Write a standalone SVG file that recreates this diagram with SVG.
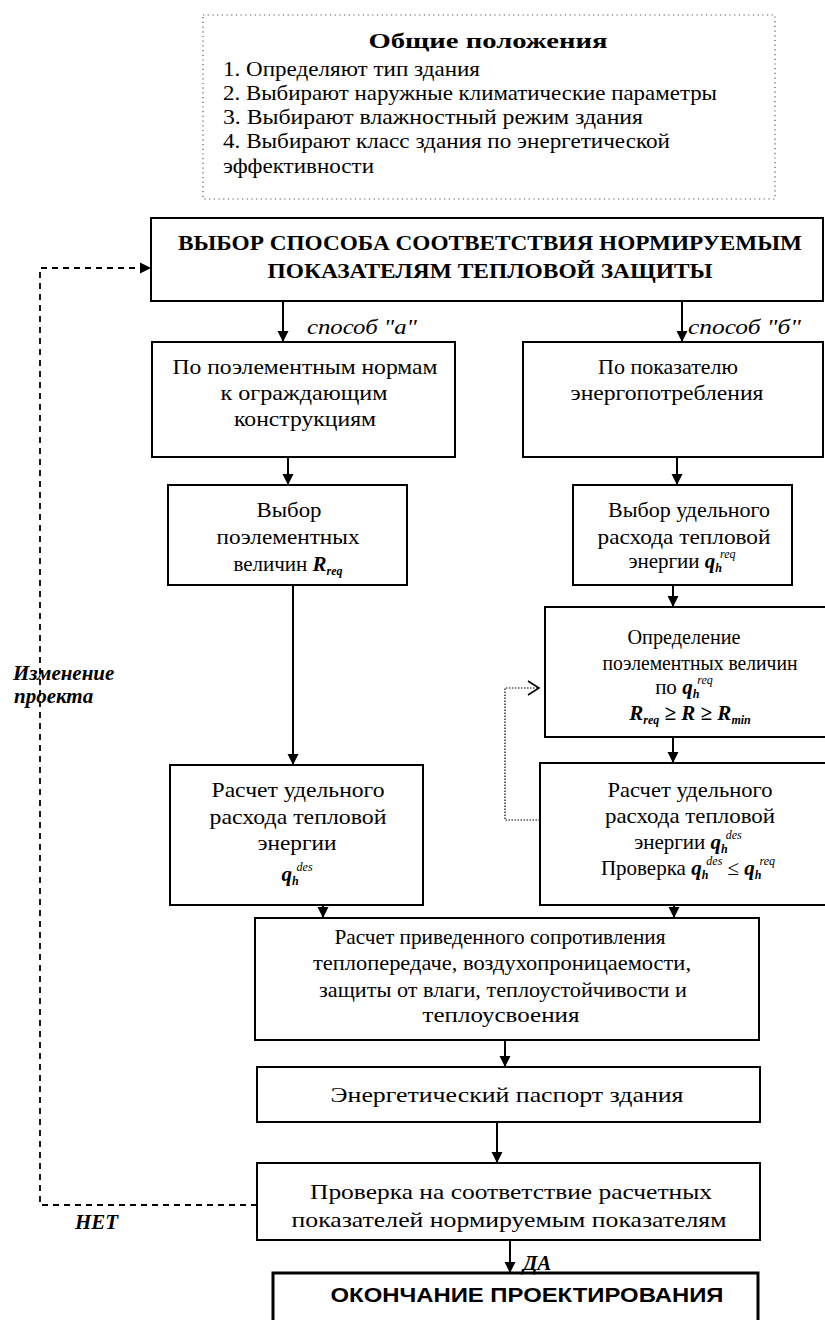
<svg xmlns="http://www.w3.org/2000/svg" width="825" height="1320" viewBox="0 0 825 1320">
<defs>
<style>
.t{font-family:"Liberation Serif","Times New Roman",serif;font-size:21px;fill:#000;text-anchor:middle}
.l{text-anchor:start}
.b{font-weight:bold}
.i{font-style:italic}
.bi{font-weight:bold;font-style:italic}
.sm{font-size:12px}
.box{fill:#fff;stroke:#000;stroke-width:2}
.dotbox{fill:#fff;stroke:#555;stroke-width:1.2;stroke-dasharray:1.2 3.5}
.conn{stroke:#000;stroke-width:2;fill:none}
.dash{stroke:#000;stroke-width:1.8;fill:none;stroke-dasharray:6 5}
.dot{stroke:#000;stroke-width:1.2;fill:none;stroke-dasharray:1.5 1.5}
</style>
<marker id="ah" markerUnits="userSpaceOnUse" markerWidth="12" markerHeight="12" refX="11" refY="6" orient="auto">
<path d="M0,0.5 L11,6 L0,11.5 z" fill="#000"/>
</marker>
<marker id="oh" markerUnits="userSpaceOnUse" markerWidth="14" markerHeight="16" refX="12" refY="8" orient="auto">
<path d="M1,1 L12,8 L1,15" fill="none" stroke="#000" stroke-width="1.6"/>
</marker>
</defs>
<rect width="825" height="1320" fill="#fff"/>

<g id="general">
<rect class="dotbox" x="203" y="15" width="572" height="184"/>
<text class="t b" x="488" y="48" font-size="24" textLength="239" lengthAdjust="spacingAndGlyphs">Общие положения</text>
<text class="t l" x="223" y="76" textLength="257" lengthAdjust="spacingAndGlyphs">1. Определяют тип здания</text>
<text class="t l" x="223" y="100" textLength="494" lengthAdjust="spacingAndGlyphs">2. Выбирают наружные климатические параметры</text>
<text class="t l" x="223" y="124" textLength="420" lengthAdjust="spacingAndGlyphs">3. Выбирают влажностный режим здания</text>
<text class="t l" x="223" y="148" textLength="447" lengthAdjust="spacingAndGlyphs">4. Выбирают класс здания по энергетической</text>
<text class="t l" x="223" y="173" textLength="151" lengthAdjust="spacingAndGlyphs">эффективности</text>
</g>

<g id="choice">
<rect class="box" x="151" y="218" width="672" height="83"/>
<text class="t b" x="490" y="250" font-size="22" textLength="624" lengthAdjust="spacingAndGlyphs">ВЫБОР СПОСОБА СООТВЕТСТВИЯ НОРМИРУЕМЫМ</text>
<text class="t b" x="490" y="278" font-size="22" textLength="445" lengthAdjust="spacingAndGlyphs">ПОКАЗАТЕЛЯМ ТЕПЛОВОЙ ЗАЩИТЫ</text>
</g>

<g id="method-a">
<rect class="box" x="152" y="342" width="303" height="115"/>
<text class="t" x="305" y="374" textLength="265" lengthAdjust="spacingAndGlyphs">По поэлементным нормам</text>
<text class="t" x="304" y="400" textLength="167" lengthAdjust="spacingAndGlyphs">к ограждающим</text>
<text class="t" x="305" y="426" textLength="142" lengthAdjust="spacingAndGlyphs">конструкциям</text>
</g>

<g id="method-b">
<rect class="box" x="523" y="342" width="300" height="115"/>
<text class="t" x="668" y="374" textLength="140" lengthAdjust="spacingAndGlyphs">По показателю</text>
<text class="t" x="667" y="400" textLength="193" lengthAdjust="spacingAndGlyphs">энергопотребления</text>
</g>

<g id="choose-r">
<rect class="box" x="168" y="485" width="239" height="100"/>
<text class="t" x="289" y="517" textLength="65" lengthAdjust="spacingAndGlyphs">Выбор</text>
<text class="t" x="288" y="544" textLength="143" lengthAdjust="spacingAndGlyphs">поэлементных</text>
<text class="t" x="288" y="571">величин <tspan class="bi">R</tspan><tspan class="bi sm" dy="4">req</tspan></text>
</g>

<g id="calc-left">
<rect class="box" x="170" y="765" width="253" height="140"/>
<text class="t" x="298" y="797" textLength="173" lengthAdjust="spacingAndGlyphs">Расчет удельного</text>
<text class="t" x="298" y="824" textLength="177" lengthAdjust="spacingAndGlyphs">расхода тепловой</text>
<text class="t" x="297" y="850" textLength="79" lengthAdjust="spacingAndGlyphs">энергии</text>
<text class="t" x="297" y="881"><tspan class="bi">q</tspan><tspan class="bi sm" dy="4">h</tspan><tspan class="i sm" dx="-2" dy="-14">des</tspan></text>
</g>

<g id="choose-q">
<rect class="box" x="573" y="485" width="219" height="100"/>
<text class="t" x="689" y="517" textLength="162" lengthAdjust="spacingAndGlyphs">Выбор удельного</text>
<text class="t" x="684" y="544" textLength="173" lengthAdjust="spacingAndGlyphs">расхода тепловой</text>
<text class="t" x="682" y="568">энергии <tspan class="bi">q</tspan><tspan class="bi sm" dy="4">h</tspan><tspan class="i sm" dx="-2" dy="-14">req</tspan></text>
</g>

<g id="define-r">
<rect class="box" x="545" y="607" width="292" height="130"/>
<text class="t" x="684" y="644" textLength="113" lengthAdjust="spacingAndGlyphs">Определение</text>
<text class="t" x="700" y="670" textLength="195" lengthAdjust="spacingAndGlyphs">поэлементных величин</text>
<text class="t" x="684" y="694">по <tspan class="bi">q</tspan><tspan class="bi sm" dy="4">h</tspan><tspan class="i sm" dx="-2" dy="-14">req</tspan></text>
<text class="t bi" x="690" y="720">R<tspan class="sm" dy="4">req</tspan><tspan dy="-4"> ≥ R ≥ R</tspan><tspan class="sm" dy="4">min</tspan></text>
</g>

<g id="calc-right">
<rect class="box" x="540" y="763" width="297" height="142"/>
<text class="t" x="690" y="797" textLength="165" lengthAdjust="spacingAndGlyphs">Расчет удельного</text>
<text class="t" x="690" y="823" textLength="170" lengthAdjust="spacingAndGlyphs">расхода тепловой</text>
<text class="t" x="688" y="849">энергии <tspan class="bi">q</tspan><tspan class="bi sm" dy="4">h</tspan><tspan class="i sm" dx="-2" dy="-14">des</tspan></text>
<text class="t" x="688" y="875">Проверка <tspan class="bi">q</tspan><tspan class="bi sm" dy="4">h</tspan><tspan class="i sm" dx="-2" dy="-14">des</tspan><tspan dy="10"> ≤ </tspan><tspan class="bi">q</tspan><tspan class="bi sm" dy="4">h</tspan><tspan class="i sm" dx="-2" dy="-14">req</tspan></text>
</g>

<g id="calc-resist">
<rect class="box" x="255" y="918" width="504" height="122"/>
<text class="t" x="500" y="944" textLength="331" lengthAdjust="spacingAndGlyphs">Расчет приведенного сопротивления</text>
<text class="t" x="502" y="970" textLength="378" lengthAdjust="spacingAndGlyphs">теплопередаче, воздухопроницаемости,</text>
<text class="t" x="503" y="997" textLength="368" lengthAdjust="spacingAndGlyphs">защиты от влаги, теплоустойчивости и</text>
<text class="t" x="501" y="1022" textLength="157" lengthAdjust="spacingAndGlyphs">теплоусвоения</text>
</g>

<g id="passport">
<rect class="box" x="257" y="1067" width="503" height="55"/>
<text class="t" x="507" y="1102" font-size="22" textLength="353" lengthAdjust="spacingAndGlyphs">Энергетический паспорт здания</text>
</g>

<g id="check">
<rect class="box" x="257" y="1163" width="503" height="77"/>
<text class="t" x="511" y="1199" font-size="22" textLength="402" lengthAdjust="spacingAndGlyphs">Проверка на соответствие расчетных</text>
<text class="t" x="509" y="1227" font-size="22" textLength="435" lengthAdjust="spacingAndGlyphs">показателей нормируемым показателям</text>
</g>

<g id="end">
<rect x="273" y="1273" width="485" height="52" fill="#fff" stroke="#000" stroke-width="3"/>
<text class="t b" x="527" y="1302" font-size="20" style="font-family:'Liberation Sans',Arial,sans-serif" textLength="393" lengthAdjust="spacingAndGlyphs">ОКОНЧАНИЕ ПРОЕКТИРОВАНИЯ</text>
</g>

<g id="connectors">
<line class="conn" x1="283" y1="301" x2="283" y2="342" marker-end="url(#ah)"/>
<line class="conn" x1="682" y1="301" x2="682" y2="342" marker-end="url(#ah)"/>
<line class="conn" x1="288" y1="457" x2="288" y2="485" marker-end="url(#ah)"/>
<line class="conn" x1="677" y1="457" x2="677" y2="485" marker-end="url(#ah)"/>
<line class="conn" x1="293" y1="585" x2="293" y2="765" marker-end="url(#ah)"/>
<line class="conn" x1="673" y1="585" x2="673" y2="607" marker-end="url(#ah)"/>
<line class="conn" x1="673" y1="737" x2="673" y2="763" marker-end="url(#ah)"/>
<line class="conn" x1="323" y1="905" x2="323" y2="918" marker-end="url(#ah)"/>
<line class="conn" x1="674" y1="905" x2="674" y2="918" marker-end="url(#ah)"/>
<line class="conn" x1="505" y1="1040" x2="505" y2="1067" marker-end="url(#ah)"/>
<line class="conn" x1="497" y1="1122" x2="497" y2="1163" marker-end="url(#ah)"/>
<line class="conn" x1="510" y1="1240" x2="510" y2="1273" marker-end="url(#ah)"/>
<path class="dash" d="M257,1205 H40 V268 H151" marker-end="url(#ah)"/>
<path class="dot" d="M540,820 H505 V688 H539" marker-end="url(#oh)"/>
<text class="t i l" x="307" y="334" font-size="19" textLength="110" lengthAdjust="spacingAndGlyphs">способ "а"</text>
<text class="t i l" x="688" y="334" font-size="19" textLength="113" lengthAdjust="spacingAndGlyphs">способ "б"</text>
<text class="t bi l" x="13" y="680" font-size="14">Изменение</text>
<text class="t bi l" x="14" y="703" font-size="14">проекта</text>
<text class="t bi l" x="75" y="1229" font-size="16">НЕТ</text>
<text class="t bi l" x="523" y="1270" font-size="14">ДА</text>
</g>
</svg>
